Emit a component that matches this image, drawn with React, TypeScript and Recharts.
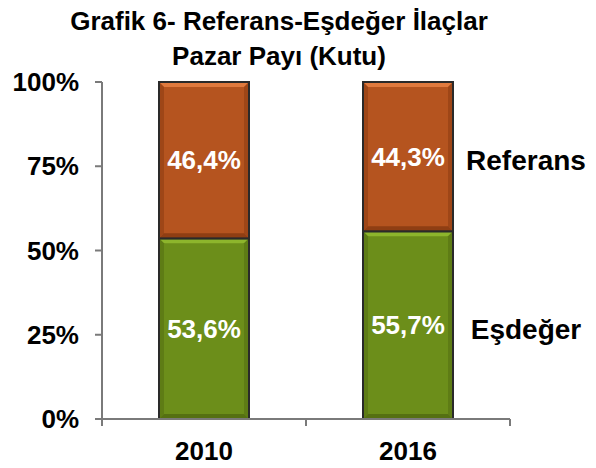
import React from 'react';
import { BarChart, Bar, XAxis, YAxis, LabelList } from 'recharts';

const years = ['2010', '2016'];
const esdeger = [53.6, 55.7];
const referans = [46.4, 44.3];
const seriesNames = { esdeger: 'Eşdeğer', referans: 'Referans' };
const yTicks = [0, 25, 50, 75, 100];
const titleLines = ['Grafik 6- Referans-Eşdeğer İlaçlar', 'Pazar Payı (Kutu)'];

const data = years.map((y, i) => ({ year: y, esdeger: esdeger[i], referans: referans[i] }));

const FONT = '"Liberation Sans", Arial, sans-serif';
const AXIS = '#7a7a7a';
const GREEN = '#6C8E1A';
const ORANGE = '#B5541F';

const fmt = (v: number) => `${v.toFixed(1).replace('.', ',')}%`;

const BevelBar = (props: any) => {
  const { x, y, width, height, fill, light, dark } = props;
  if (!height || height <= 0) return null;
  const b = 5;
  return (
    <g>
      <rect x={x} y={y} width={width} height={height} fill={fill} />
      <polygon points={`${x},${y} ${x + width},${y} ${x + width - b},${y + b} ${x + b},${y + b}`} fill={light} />
      <polygon points={`${x},${y + height} ${x + width},${y + height} ${x + width - b},${y + height - b} ${x + b},${y + height - b}`} fill={dark} />
      <polygon points={`${x},${y} ${x + b},${y + b} ${x + b},${y + height - b} ${x},${y + height}`} fill={dark} opacity={0.6} />
      <polygon points={`${x + width},${y} ${x + width - b},${y + b} ${x + width - b},${y + height - b} ${x + width},${y + height}`} fill={dark} opacity={0.6} />
      <rect x={x} y={y} width={width} height={height} fill="none" stroke="#2a2a2a" strokeWidth={2} />
    </g>
  );
};

const XTick = (props: any) => {
  const { x, y, payload, index, visibleTicksCount } = props;
  const off = payload && typeof payload.offset === 'number' ? payload.offset : 0;
  const axisY = y - 23;
  return (
    <g>
      <text x={x} y={y} dy="0.71em" textAnchor="middle" fontFamily={FONT} fontWeight="bold" fontSize={26} fill="#000">
        {payload.value}
      </text>
      {off > 0 && <line x1={x - off} x2={x - off} y1={axisY} y2={axisY + 7} stroke={AXIS} strokeWidth={2} />}
      {off > 0 && index === visibleTicksCount - 1 && (
        <line x1={x + off} x2={x + off} y1={axisY} y2={axisY + 7} stroke={AXIS} strokeWidth={2} />
      )}
    </g>
  );
};

const makeSeriesLabel = (name: string) => (props: any) => {
  const { x, y, width, height, index } = props;
  if (index !== data.length - 1) return null;
  return (
    <text
      x={x + width + 73}
      y={y + height / 2 + 4}
      textAnchor="middle"
      dominantBaseline="central"
      fontFamily={FONT}
      fontWeight="bold"
      fontSize={28}
      fill="#000"
    >
      {name}
    </text>
  );
};

export default function App() {
  return (
    <div style={{ position: 'fixed', left: 0, top: 0, width: 596, height: 468, background: '#fff' }}>
      <div
        style={{
          position: 'absolute',
          left: 0,
          top: 4,
          width: 558,
          textAlign: 'center',
          fontFamily: FONT,
          fontWeight: 'bold',
          fontSize: 26,
          lineHeight: '35px',
          color: '#000',
        }}
      >
        {titleLines.map((t) => (
          <div key={t}>{t}</div>
        ))}
      </div>
      <BarChart
        width={596}
        height={468}
        data={data}
        margin={{ top: 82, right: 86, bottom: 0, left: 0 }}
        barSize={90}
      >
        <YAxis
          width={102}
          domain={[0, 100]}
          ticks={yTicks}
          tickFormatter={(v: number) => `${v}%`}
          axisLine={{ stroke: AXIS, strokeWidth: 2 }}
          tickLine={{ stroke: AXIS, strokeWidth: 2 }}
          tickSize={7}
          tickMargin={16}
          tick={{ fontFamily: FONT, fontWeight: 'bold', fontSize: 26, fill: '#000' }}
          interval={0}
        />
        <XAxis
          dataKey="year"
          height={49}
          axisLine={{ stroke: AXIS, strokeWidth: 2 }}
          tickLine={false}
          tickSize={7}
          tickMargin={16}
          tick={<XTick />}
          interval={0}
        />
        <Bar
          dataKey="esdeger"
          stackId="a"
          fill={GREEN}
          isAnimationActive={false}
          shape={(p: any) => <BevelBar {...p} fill={GREEN} light="#8db52c" dark="#557012" />}
        >
          <LabelList dataKey="esdeger" position="center" formatter={fmt as any} fill="#fff" fontFamily={FONT} fontWeight="bold" fontSize={26} />
          <LabelList dataKey="esdeger" content={makeSeriesLabel(seriesNames.esdeger)} />
        </Bar>
        <Bar
          dataKey="referans"
          stackId="a"
          fill={ORANGE}
          isAnimationActive={false}
          shape={(p: any) => <BevelBar {...p} fill={ORANGE} light="#e07a3e" dark="#8f3e13" />}
        >
          <LabelList dataKey="referans" position="center" formatter={fmt as any} fill="#fff" fontFamily={FONT} fontWeight="bold" fontSize={26} />
          <LabelList dataKey="referans" content={makeSeriesLabel(seriesNames.referans)} />
        </Bar>
      </BarChart>
    </div>
  );
}
